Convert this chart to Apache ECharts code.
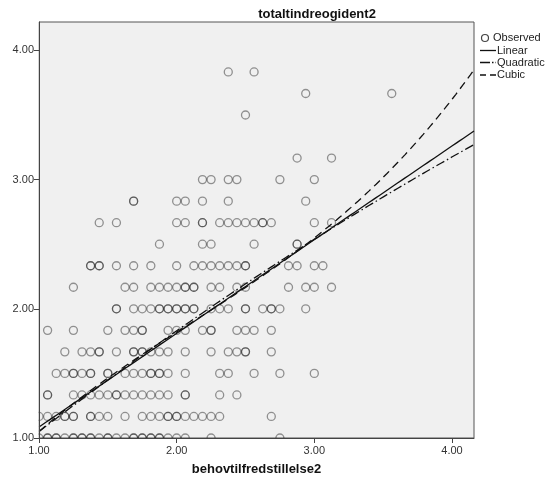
<!DOCTYPE html>
<html>
<head>
<meta charset="utf-8">
<script src="https://cdn.jsdelivr.net/npm/echarts@6/dist/echarts.min.js"></script>
<style>
  html, body { margin: 0; padding: 0; background: #ffffff; }
  #chart { width: 557px; height: 484px; }
</style>
</head>
<body>
<div id="chart"></div>
<script>
// Axis ranges and tick labels
const xRange = [1, 4.16];
const yRange = [1, 4.22];
const xTickValues = [1, 2, 3, 4];
const yTickValues = [1, 2, 3, 4];

// Observed cases: one list of x values per y level (repeated values are overlapping cases)
const obsLevels = [1.0, 1.1667, 1.3333, 1.5, 1.6667, 1.8333, 2.0, 2.1667, 2.3333, 2.5, 2.6667, 2.8333, 3.0, 3.1667, 3.5, 3.6667, 3.8333];
const obsX = [
  [1.0, 1.0625, 1.0625, 1.125, 1.125, 1.1875, 1.25, 1.25, 1.3125, 1.3125, 1.375, 1.375, 1.4375, 1.5, 1.5, 1.5625, 1.625, 1.6875, 1.6875, 1.75, 1.75, 1.8125, 1.8125, 1.875, 1.875, 1.9375, 2.0, 2.0625, 2.25, 2.75],
  [1.0, 1.0625, 1.125, 1.1875, 1.1875, 1.25, 1.25, 1.375, 1.375, 1.4375, 1.5, 1.625, 1.75, 1.8125, 1.875, 1.9375, 1.9375, 2.0, 2.0, 2.0625, 2.125, 2.1875, 2.25, 2.3125, 2.6875],
  [1.0625, 1.0625, 1.25, 1.3125, 1.375, 1.4375, 1.5, 1.5625, 1.5625, 1.625, 1.6875, 1.75, 1.8125, 1.875, 1.9375, 2.0625, 2.0625, 2.3125, 2.4375],
  [1.125, 1.1875, 1.25, 1.25, 1.3125, 1.375, 1.375, 1.5, 1.5, 1.625, 1.6875, 1.75, 1.8125, 1.8125, 1.875, 1.875, 1.9375, 2.0625, 2.3125, 2.375, 2.5625, 2.75, 3.0],
  [1.1875, 1.3125, 1.375, 1.4375, 1.4375, 1.5625, 1.6875, 1.6875, 1.75, 1.75, 1.8125, 1.875, 1.9375, 2.0625, 2.25, 2.375, 2.4375, 2.5, 2.5, 2.6875],
  [1.0625, 1.25, 1.5, 1.625, 1.6875, 1.75, 1.75, 1.9375, 2.0, 2.0625, 2.1875, 2.25, 2.25, 2.4375, 2.5, 2.5625, 2.6875],
  [1.5625, 1.5625, 1.6875, 1.75, 1.8125, 1.875, 1.875, 1.9375, 1.9375, 2.0, 2.0, 2.0625, 2.0625, 2.125, 2.125, 2.25, 2.3125, 2.375, 2.5, 2.5, 2.625, 2.6875, 2.6875, 2.75, 2.9375],
  [1.25, 1.625, 1.6875, 1.8125, 1.875, 1.9375, 2.0, 2.0625, 2.0625, 2.125, 2.125, 2.25, 2.3125, 2.4375, 2.5, 2.8125, 2.9375, 3.0, 3.125],
  [1.375, 1.375, 1.4375, 1.4375, 1.5625, 1.6875, 1.8125, 2.0, 2.125, 2.1875, 2.25, 2.3125, 2.375, 2.4375, 2.5, 2.5, 2.8125, 2.875, 3.0, 3.0625],
  [1.875, 2.1875, 2.25, 2.5625, 2.875, 2.875],
  [1.4375, 1.5625, 2.0, 2.0625, 2.1875, 2.1875, 2.3125, 2.375, 2.4375, 2.5, 2.5625, 2.625, 2.625, 2.6875, 3.0, 3.125],
  [1.6875, 1.6875, 2.0, 2.0625, 2.1875, 2.375, 2.9375],
  [2.1875, 2.25, 2.375, 2.4375, 2.75, 3.0],
  [2.875, 3.125],
  [2.5],
  [2.9375, 3.5625],
  [2.375, 2.5625]
];

// Fitted model coefficients (constant, b1, b2, b3)
const linearCoef = [0.36, 0.725];
const quadraticCoef = [0.199, 0.8865, -0.0356];
const cubicCoef = [-0.1447, 1.5355, -0.4049, 0.0641];

const observed = [];
obsLevels.forEach((yv, i) => obsX[i].forEach(xv => observed.push([xv, yv])));

function curve(coef) {
  const pts = [];
  const n = 120;
  for (let i = 0; i <= n; i++) {
    const x = xRange[0] + (xRange[1] - xRange[0]) * i / n;
    let y = 0;
    coef.forEach((c, k) => { y += c * Math.pow(x, k); });
    pts.push([x, y]);
  }
  return pts;
}

const labelFont = 'Liberation Sans, Arial, sans-serif';
const chart = echarts.init(document.getElementById('chart'), null, { renderer: 'canvas' });

const option = {
  backgroundColor: '#ffffff',
  animation: false,
  title: {
    text: 'totaltindreogident2',
    left: 312, top: 3, textAlign: 'center',
    textStyle: { fontFamily: labelFont, fontWeight: 'bold', fontSize: 13, color: '#111' }
  },
  grid: {
    left: 39, right: 83, top: 22, bottom: 46,
    show: true, backgroundColor: '#f0f0f0', borderColor: '#555', borderWidth: 1
  },
  xAxis: {
    type: 'value', min: xRange[0], max: xRange[1], interval: 1, z: 10,
    name: 'behovtilfredstillelse2', nameLocation: 'middle', nameGap: 25,
    nameTextStyle: { fontFamily: labelFont, fontWeight: 'bold', fontSize: 13, color: '#111' },
    axisLine: { lineStyle: { color: '#444', width: 1 } },
    axisTick: { show: true, length: 5, customValues: xTickValues, lineStyle: { color: '#444' } },
    axisLabel: { customValues: xTickValues, formatter: v => v.toFixed(2), fontFamily: labelFont, fontSize: 11, color: '#333', margin: 7 },
    splitLine: { show: false }
  },
  yAxis: {
    type: 'value', min: yRange[0], max: yRange[1], interval: 1, z: 10,
    axisLine: { show: true, lineStyle: { color: '#444', width: 1 } },
    axisTick: { show: true, length: 5, customValues: yTickValues, lineStyle: { color: '#444' } },
    axisLabel: { customValues: yTickValues, formatter: v => v.toFixed(2), fontFamily: labelFont, fontSize: 11, color: '#333', margin: 5 },
    splitLine: { show: false }
  },
  series: [
    {
      name: 'Observed', type: 'scatter', data: observed, symbol: 'circle', symbolSize: 8,
      itemStyle: { color: 'rgba(0,0,0,0)', borderColor: 'rgba(30,30,30,0.58)', borderWidth: 1.3 },
      z: 2
    },
    {
      name: 'Linear', type: 'line', data: curve(linearCoef), showSymbol: false, symbol: 'none',
      lineStyle: { color: '#111', width: 1.3, type: 'solid' }, z: 3
    },
    {
      name: 'Quadratic', type: 'line', data: curve(quadraticCoef), showSymbol: false, symbol: 'none',
      lineStyle: { color: '#111', width: 1.3, type: [9, 3, 1.5, 3] }, z: 3
    },
    {
      name: 'Cubic', type: 'line', data: curve(cubicCoef), showSymbol: false, symbol: 'none',
      lineStyle: { color: '#111', width: 1.3, type: [8, 5] }, z: 3
    }
  ]
};
chart.setOption(option);

// Mask the parts of edge markers that spill outside the plot frame, then draw the key
const pMin = chart.convertToPixel({ gridIndex: 0 }, [xRange[0], yRange[0]]);
const pMax = chart.convertToPixel({ gridIndex: 0 }, [xRange[1], yRange[1]]);
const keyX = pMax[0] + 6;
const keyY = [38, 50.5, 62.5, 75];
const keyText = { fontFamily: labelFont, fontSize: 11, fill: '#222', textVerticalAlign: 'middle' };
chart.setOption({
  graphic: [
    { type: 'rect', z: 5, silent: true, shape: { x: pMin[0] - 10, y: pMin[1] + 0.5, width: pMax[0] - pMin[0] + 12, height: 8 }, style: { fill: '#ffffff' } },
    { type: 'rect', z: 5, silent: true, shape: { x: pMin[0] - 10, y: pMax[1], width: 9.5, height: pMin[1] - pMax[1] + 8 }, style: { fill: '#ffffff' } },
    { type: 'circle', z: 6, shape: { cx: keyX + 5, cy: keyY[0], r: 3.5 }, style: { fill: 'none', stroke: '#444', lineWidth: 1.2 } },
    { type: 'text', z: 6, x: keyX + 13, y: keyY[0], style: Object.assign({ text: 'Observed' }, keyText) },
    { type: 'line', z: 6, shape: { x1: keyX, y1: keyY[1], x2: keyX + 16, y2: keyY[1] }, style: { stroke: '#111', lineWidth: 1.3 } },
    { type: 'text', z: 6, x: keyX + 17, y: keyY[1], style: Object.assign({ text: 'Linear' }, keyText) },
    { type: 'line', z: 6, shape: { x1: keyX, y1: keyY[2], x2: keyX + 16, y2: keyY[2] }, style: { stroke: '#111', lineWidth: 1.3, lineDash: [10, 2, 1.5, 2] } },
    { type: 'text', z: 6, x: keyX + 17, y: keyY[2], style: Object.assign({ text: 'Quadratic' }, keyText) },
    { type: 'line', z: 6, shape: { x1: keyX, y1: keyY[3], x2: keyX + 16, y2: keyY[3] }, style: { stroke: '#111', lineWidth: 1.3, lineDash: [6, 4] } },
    { type: 'text', z: 6, x: keyX + 17, y: keyY[3], style: Object.assign({ text: 'Cubic' }, keyText) }
  ]
});
</script>
</body>
</html>
